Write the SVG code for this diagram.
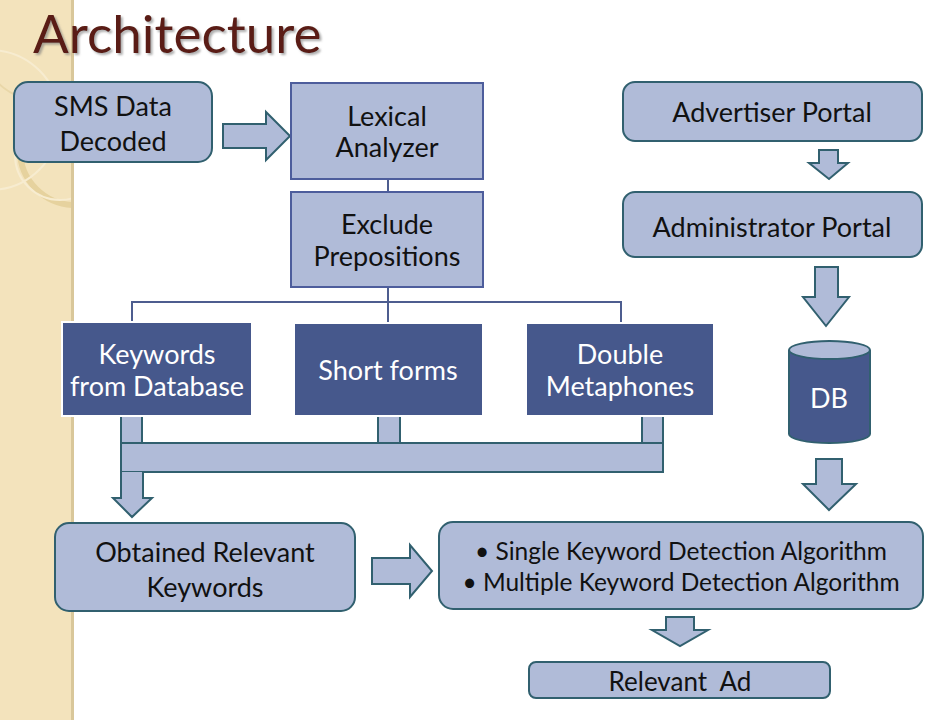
<svg xmlns="http://www.w3.org/2000/svg" width="935" height="720" viewBox="0 0 935 720">
<defs>
<clipPath id="strip"><rect x="0" y="0" width="72" height="720"/></clipPath>
<filter id="shadow" filterUnits="userSpaceOnUse" x="0" y="0" width="400" height="80">
<feDropShadow dx="2" dy="2" stdDeviation="1.2" flood-color="#777" flood-opacity="0.6"/>
</filter>
<style>
.t{font-family:"Lato","Open Sans","Liberation Sans",sans-serif;font-size:27px;fill:#111;text-anchor:middle}
.s25{font-size:24.5px}
.s26{font-size:26px;white-space:pre}
.w{fill:#fff}
.lite{fill:#b0bbd8;stroke:#31606f;stroke-width:2}
.sq{fill:#b0bbd8;stroke:#4d5d9c;stroke-width:2}
.dark{fill:#46588c;stroke:#fff;stroke-width:2}
.arr{fill:#b0bbd8;stroke:#31606f;stroke-width:2;stroke-linejoin:miter}
.ln{fill:none;stroke:#4d5d8f;stroke-width:2}
</style>
</defs>
<rect width="935" height="720" fill="#fff"/>
<g id="background">
<rect x="0" y="0" width="72" height="720" fill="#f3e3bc"/>
<g clip-path="url(#strip)" fill="none" stroke="#e9d7a8" stroke-width="2">
<circle cx="40" cy="40" r="60"/>
<circle cx="75" cy="150" r="55" stroke="#e6d29e" stroke-width="6"/>
<circle cx="60" cy="155" r="45" stroke="#f7ecd0"/>
<circle cx="-10" cy="120" r="70" stroke="#f7ecd0"/>
</g>
<rect x="71" y="0" width="3" height="720" fill="#d9c79a"/>
</g>
<g id="title" filter="url(#shadow)">
<text x="33" y="53" font-family="Lato,'Open Sans','Liberation Sans',sans-serif" font-size="53" fill="#5a1d12">Architecture</text>
</g>
<g id="connectors">
<path class="arr" d="M223,124 H266 V112 L290,136 L266,160 V148 H223 Z"/>
<line class="ln" x1="388" y1="179" x2="388" y2="192" stroke-width="3"/>
<path class="ln" d="M388,287 V302 M132,323 V302 H621 V323 M388,302 V323"/>
<rect x="121" y="415" width="21" height="28" class="arr"/>
<rect x="378" y="415" width="22" height="28" class="arr"/>
<rect x="642" y="415" width="21" height="28" class="arr"/>
<rect x="121" y="443" width="542" height="29" class="arr"/>
<path class="arr" d="M121,472 V498 H113 L132,517 L152,498 H143 V472"/>
<path class="arr" d="M372,558 H410 V545 L432,571 L410,597 V584 H372 Z"/>
<path class="arr" d="M666,617 H694 V630 H708 L680,646 L652,630 H666 Z"/>
<path class="arr" d="M819,150 H838 V163 H848 L829,179 L809,163 H819 Z"/>
<path class="arr" d="M815,267 H838 V297 H849 L826,326 L803,297 H815 Z"/>
<path class="arr" d="M816,459 H842 V484 H856 L829,510 L803,484 H816 Z"/>
</g>
<g id="sms">
<rect class="lite" x="14" y="82" width="198" height="80" rx="14"/>
<text class="t" x="113" y="116">SMS Data</text>
<text class="t" x="113" y="151">Decoded</text>
</g>
<g id="lexical">
<rect class="sq" x="291" y="83" width="192" height="96"/>
<text class="t" x="387" y="126">Lexical</text>
<text class="t" x="387" y="157">Analyzer</text>
</g>
<g id="exclude">
<rect class="sq" x="291" y="192" width="192" height="95"/>
<text class="t" x="387" y="234">Exclude</text>
<text class="t" x="387" y="266">Prepositions</text>
</g>
<g id="keywords">
<rect class="dark" x="62" y="322" width="190" height="94"/>
<text class="t w" x="157" y="364">Keywords</text>
<text class="t w" x="157" y="396">from Database</text>
</g>
<g id="shortforms">
<rect class="dark" x="294" y="323" width="189" height="93"/>
<text class="t w" x="388" y="380">Short forms</text>
</g>
<g id="metaphones">
<rect class="dark" x="526" y="323" width="188" height="93"/>
<text class="t w" x="620" y="364">Double</text>
<text class="t w" x="620" y="396">Metaphones</text>
</g>
<g id="obtained">
<rect class="lite" x="55" y="523" width="300" height="88" rx="14"/>
<text class="t" x="205" y="562">Obtained Relevant</text>
<text class="t" x="205" y="597">Keywords</text>
</g>
<g id="algorithms">
<rect class="lite" x="439" y="522" width="484" height="87" rx="14"/>
<text class="t s25" x="681" y="560">• Single Keyword Detection Algorithm</text>
<text class="t s25" x="681" y="591">• Multiple Keyword Detection Algorithm</text>
</g>
<g id="relevantad">
<rect class="lite" x="529" y="662" width="301" height="36" rx="7"/>
<text class="t s26" x="680" y="691">Relevant  Ad</text>
</g>
<g id="advertiser">
<rect class="lite" x="623" y="82" width="299" height="59" rx="12"/>
<text class="t" x="772" y="122">Advertiser Portal</text>
</g>
<g id="administrator">
<rect class="lite" x="623" y="192" width="299" height="65" rx="12"/>
<text class="t" x="772" y="237">Administrator Portal</text>
</g>
<g id="db">
<path d="M789,350 V434 A40.5,9 0 0 0 870,434 V350" fill="#46588c" stroke="#31606f" stroke-width="2"/>
<ellipse cx="829.5" cy="350" rx="40.5" ry="9" fill="#b0bbd8" stroke="#31606f" stroke-width="2"/>
<text class="t w" x="829" y="408">DB</text>
</g>
</svg>
